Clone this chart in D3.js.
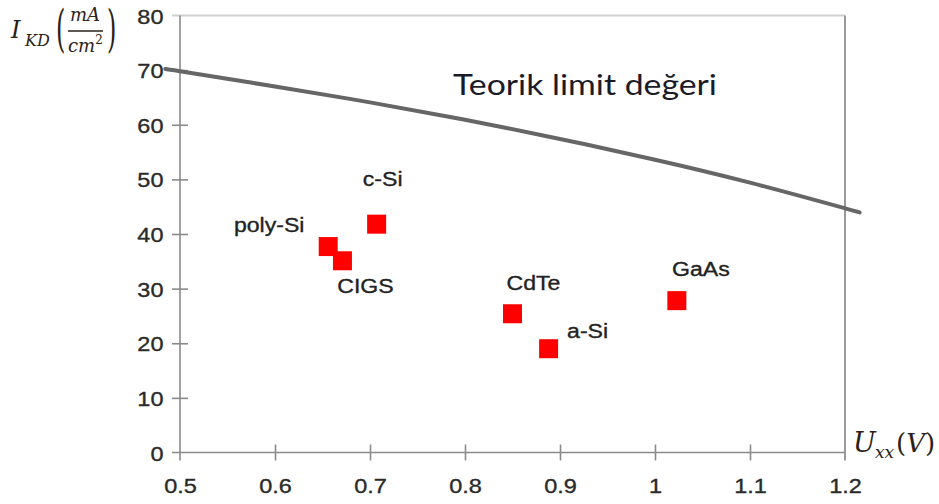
<!DOCTYPE html>
<html>
<head>
<meta charset="utf-8">
<script src="https://cdn.jsdelivr.net/npm/d3@7"></script>
<style>
  html, body { margin: 0; padding: 0; background: #fff; }
  svg { display: block; }
</style>
</head>
<body>
<svg id="chart" width="939" height="504"></svg>
<script>
// Solar cell technologies: open-circuit voltage vs short-circuit current density
const cells = ["poly-Si", "CIGS", "c-Si", "CdTe", "a-Si", "GaAs"];
const voltage = [0.656, 0.671, 0.707, 0.850, 0.888, 1.023];
const current = [37.7, 35.1, 41.8, 25.4, 19.0, 27.8];

// Theoretical limit curve
const limitU = [0.4875, 0.5, 0.6, 0.7, 0.8, 0.9, 1.0, 1.1, 1.2, 1.2125];
const limitI = [70.1, 69.8, 67.0, 64.1, 60.9, 57.4, 53.6, 49.4, 44.7, 44.1];

const xTicks = [0.5, 0.6, 0.7, 0.8, 0.9, 1.0, 1.1, 1.2];
const xTickLabels = ["0.5", "0.6", "0.7", "0.8", "0.9", "1", "1.1", "1.2"];
const yTicks = [0, 10, 20, 30, 40, 50, 60, 70, 80];

// label placement around each marker: [dx, dy] in pixels (text centred)
const labelOffset = {
  "poly-Si": [-59, -15],
  "CIGS": [23, 32],
  "c-Si": [6, -38],
  "CdTe": [21, -24],
  "a-Si": [39, -11],
  "GaAs": [24, -25]
};

const SX = 1.12; // horizontal stretch of the lettering
const svg = d3.select("#chart");

const x = d3.scaleLinear().domain([0.5, 1.2]).range([180, 845]);
const y = d3.scaleLinear().domain([0, 80]).range([452.5, 15.5]);

const axisColor = "#8a8a8a";
const labelFont = "'Liberation Sans', Arial, sans-serif";

// frame: light top line and right edge
svg.append("line")
  .attr("x1", 172).attr("x2", x(1.2))
  .attr("y1", y(80)).attr("y2", y(80))
  .attr("stroke", "#d0d0d0").attr("stroke-width", 2);
svg.append("line")
  .attr("x1", x(1.2)).attr("x2", x(1.2))
  .attr("y1", y(80)).attr("y2", y(0) + 8)
  .attr("stroke", "#9a9a9a").attr("stroke-width", 2);

// y axis
const yAxis = svg.append("g")
  .attr("transform", `translate(${x(0.5)},0)`)
  .call(d3.axisLeft(y).tickValues(yTicks).tickFormat(d3.format("d")).tickSize(8));
yAxis.select(".domain").remove();
yAxis.selectAll(".tick line")
  .attr("x1", -8).attr("x2", 8)
  .attr("stroke", axisColor).attr("stroke-width", 1.6)
  .attr("display", d => (d === 80 || d === 0) ? "none" : null);
yAxis.selectAll(".tick text")
  .attr("x", 0).attr("dy", "0.36em")
  .attr("transform", `translate(-16.5,0) scale(${SX},1)`)
  .attr("text-anchor", "end")
  .attr("fill", "#2a2a2a")
  .attr("stroke", "#2a2a2a").attr("stroke-width", 0.35)
  .style("font-family", labelFont).style("font-size", "21px");
svg.append("line")
  .attr("x1", x(0.5)).attr("x2", x(0.5))
  .attr("y1", y(80)).attr("y2", y(0) + 8)
  .attr("stroke", axisColor).attr("stroke-width", 1.6);

// x axis
const xAxis = svg.append("g")
  .attr("transform", `translate(0,${y(0)})`)
  .call(d3.axisBottom(x).tickValues(xTicks).tickFormat((d, i) => xTickLabels[i]).tickSize(8));
xAxis.select(".domain").remove();
xAxis.selectAll(".tick line")
  .attr("y1", -8).attr("y2", 8)
  .attr("stroke", axisColor).attr("stroke-width", 1.6)
  .attr("display", d => (d === 0.5 || d === 1.2) ? "none" : null);
xAxis.selectAll(".tick text")
  .attr("y", 0).attr("dy", 0)
  .attr("transform", `translate(0,40) scale(${SX},1)`)
  .attr("text-anchor", "middle")
  .attr("fill", "#2a2a2a")
  .attr("stroke", "#2a2a2a").attr("stroke-width", 0.35)
  .style("font-family", labelFont).style("font-size", "21px");
svg.append("line")
  .attr("x1", 172).attr("x2", x(1.2))
  .attr("y1", y(0)).attr("y2", y(0))
  .attr("stroke", axisColor).attr("stroke-width", 1.6);

// theoretical limit curve
const limitData = limitU.map((u, i) => ({ u, v: limitI[i] }));
svg.append("path")
  .datum(limitData)
  .attr("d", d3.line().x(d => x(d.u)).y(d => y(d.v)).curve(d3.curveNatural))
  .attr("fill", "none")
  .attr("stroke", "#666")
  .attr("stroke-width", 4)
  .attr("stroke-linecap", "butt");

// helper for stretched text
function stretchedText(px, py, str, opts) {
  const g = svg.append("g").attr("transform", `translate(${px},${py})`);
  const t = g.append("text")
    .attr("transform", `scale(${opts.sx || SX},1)`)
    .attr("text-anchor", opts.anchor || "start")
    .attr("fill", opts.fill || "#222")
    .style("font-family", opts.family || labelFont)
    .style("font-size", opts.size + "px")
    .style("font-style", opts.style || "normal")
    .text(str);
  if (opts.weight) t.attr("stroke", opts.fill || "#222").attr("stroke-width", opts.weight);
  return t;
}

stretchedText(453, 95, "Teorik limit değeri",
  { size: 29, family: "Lato, 'Open Sans', sans-serif", fill: "#1b1b28", sx: 1.165 });

// cell markers
const pts = cells.map((c, i) => ({ c, u: voltage[i], v: current[i] }));
const S = 19;
svg.selectAll("rect.cell")
  .data(pts)
  .join("rect")
  .attr("class", "cell")
  .attr("x", d => x(d.u) - S / 2)
  .attr("y", d => y(d.v) - S / 2)
  .attr("width", S).attr("height", S)
  .attr("fill", "#ff0000");

pts.forEach(d => {
  const [dx, dy] = labelOffset[d.c];
  stretchedText(x(d.u) + dx, y(d.v) + dy, d.c,
    { size: 21, anchor: "middle", fill: "#222", sx: 1.1, weight: 0.35 });
});

// axis titles in math style
const mathFont = "'DejaVu Serif', 'Liberation Serif', serif";
const mathFill = "#2b2118";
const yt = svg.append("g").attr("class", "y-title");
yt.append("text").attr("x", 11).attr("y", 38)
  .style("font-family", mathFont).style("font-style", "italic").style("font-size", "24px")
  .attr("fill", mathFill).text("I");
yt.append("text").attr("x", 25).attr("y", 46)
  .style("font-family", mathFont).style("font-style", "italic").style("font-size", "16px")
  .attr("fill", mathFill).text("KD");
yt.append("text").attr("x", 56).attr("y", 46)
  .attr("transform", "translate(56,46) scale(1,2.1) translate(-56,-46)")
  .style("font-family", mathFont).style("font-size", "24px")
  .attr("fill", mathFill).text("(");
yt.append("text").attr("x", 107).attr("y", 46)
  .attr("transform", "translate(107,46) scale(1,2.1) translate(-107,-46)")
  .style("font-family", mathFont).style("font-size", "24px")
  .attr("fill", mathFill).text(")");
yt.append("text").attr("x", 85).attr("y", 21).attr("text-anchor", "middle")
  .style("font-family", mathFont).style("font-style", "italic").style("font-size", "18px")
  .attr("fill", mathFill).text("mA");
yt.append("line").attr("x1", 68).attr("x2", 103).attr("y1", 31).attr("y2", 31)
  .attr("stroke", mathFill).attr("stroke-width", 1.5);
const cm = yt.append("text").attr("x", 68).attr("y", 52)
  .style("font-family", mathFont).style("font-style", "italic").style("font-size", "18px")
  .attr("fill", mathFill);
cm.append("tspan").text("cm");
cm.append("tspan").attr("dy", -8).style("font-size", "12px").style("font-style", "normal").text("2");

const xt = svg.append("g").attr("class", "x-title");
xt.append("text").attr("x", 853).attr("y", 452)
  .style("font-family", mathFont).style("font-style", "italic").style("font-size", "27px")
  .attr("fill", mathFill).text("U");
xt.append("text").attr("x", 875).attr("y", 458)
  .style("font-family", mathFont).style("font-style", "italic").style("font-size", "17px")
  .attr("fill", mathFill).text("xx");
xt.append("text").attr("x", 896).attr("y", 452)
  .style("font-family", mathFont).style("font-size", "26px")
  .attr("fill", mathFill)
  .selectAll("tspan").data(["(", "V", ")"]).join("tspan")
  .style("font-style", d => d === "V" ? "italic" : "normal")
  .text(d => d);
</script>
</body>
</html>
